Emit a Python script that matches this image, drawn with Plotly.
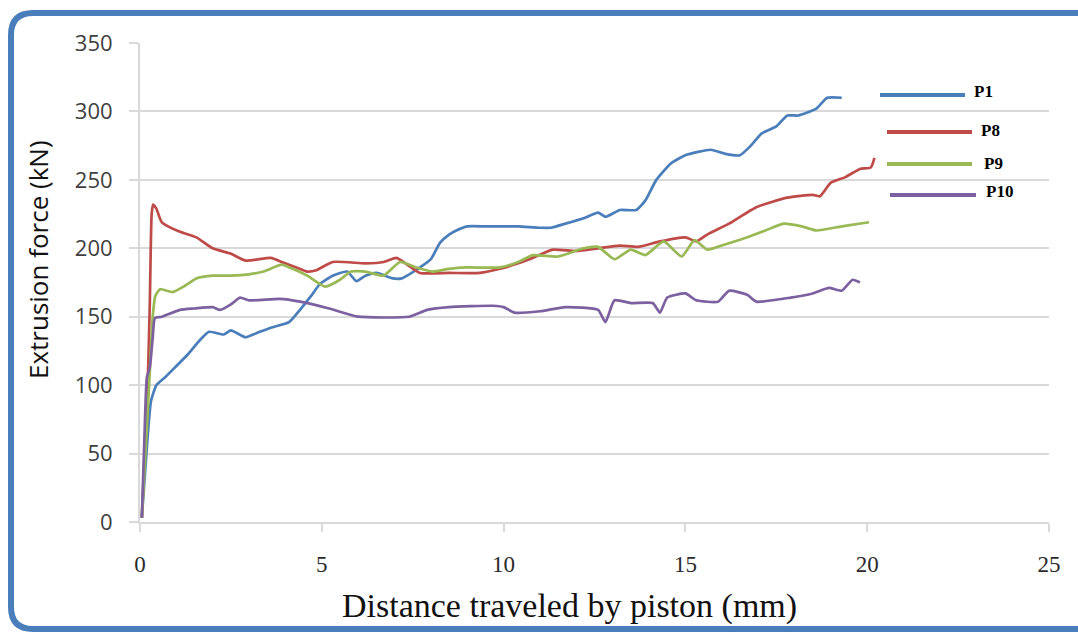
import plotly.graph_objects as go

# ---------------- data ----------------
p1_x = [0.05, 0.15, 0.3, 0.45, 0.7, 1.0, 1.3, 1.65, 1.9, 2.3, 2.5, 2.9, 3.2, 3.6, 4.1, 4.4, 4.7, 4.95,
        5.3, 5.7, 5.95, 6.2, 6.5, 6.95, 7.2, 7.7, 8.0, 8.25, 8.5, 8.7, 9.0, 9.5, 10.0, 10.4, 11.0, 11.3,
        11.7, 12.2, 12.6, 12.8, 13.2, 13.65, 13.9, 14.2, 14.6, 15.0, 15.7, 16.1, 16.5, 16.8, 17.1, 17.5,
        17.8, 18.1, 18.6, 18.9, 19.3]
p1_y = [3, 40, 88, 100, 106, 114, 122, 133, 139, 137, 140, 135, 138, 142, 146, 155, 165, 174,
        180, 183, 176, 180, 182, 178, 178, 186, 192, 204, 210, 213, 216, 216, 216, 216, 215, 215,
        218, 222, 226, 223, 228, 228, 235, 250, 262, 268, 272, 269, 268, 275, 284, 289,
        297, 297, 302, 310, 310]

p8_x = [0.05, 0.15, 0.22, 0.27, 0.32, 0.36, 0.45, 0.6, 1.1, 1.55, 2.0, 2.5, 2.9, 3.6, 3.9, 4.3, 4.6,
        4.85, 5.3, 6.2, 6.7, 7.05, 7.3, 7.7, 8.5, 9.35, 9.9, 10.4, 10.8, 11.35, 12.0, 12.6, 13.2, 13.7,
        14.3, 15.0, 15.3, 15.6, 16.2, 16.95, 17.8, 18.5, 18.7, 19.0, 19.4, 19.8, 20.1, 20.2]
p8_y = [3, 60, 108, 160, 225, 232, 229, 219, 212, 208, 200, 196, 191, 193, 190, 186, 183,
        184, 190, 189, 190, 193, 189, 182, 182, 182, 185, 189, 193, 199, 198, 200, 202, 201,
        205, 208, 205, 210, 218, 230, 237, 239, 238, 248, 252, 258, 259, 266]

p9_x = [0.05, 0.15, 0.25, 0.35, 0.42, 0.55, 0.9, 1.2, 1.55, 2.0, 2.5, 3.0, 3.4, 3.9, 4.2, 4.6, 5.1,
        5.5, 5.8, 6.2, 6.7, 7.15, 7.6, 8.05, 8.5, 9.0, 9.9, 10.4, 10.8, 11.5, 12.2, 12.6, 13.05, 13.5,
        13.9, 14.4, 14.9, 15.25, 15.6, 16.0, 16.7, 17.2, 17.7, 18.2, 18.6, 19.3, 20.05]
p9_y = [3, 50, 100, 150, 165, 170, 168, 172, 178, 180, 180, 181, 183, 188, 185, 180, 172,
        177, 183, 183, 180, 190, 186, 183, 185, 186, 186, 190, 195, 194, 200, 201, 192, 199,
        195, 205, 194, 206, 199, 202, 208, 213, 218, 216, 213, 216, 219]

p10_x = [0.05, 0.12, 0.19, 0.27, 0.35, 0.41, 0.6, 1.1, 1.5, 2.0, 2.2, 2.5, 2.75, 3.0, 3.85, 4.4,
         5.2, 6.0, 7.4, 7.9, 8.5, 9.7, 10.0, 10.3, 11.0, 11.7, 12.6, 12.8, 13.05, 13.5, 14.1, 14.3,
         14.5, 15.0, 15.3, 15.9, 16.2, 16.7, 16.95, 17.9, 18.5, 18.95, 19.3, 19.6, 19.8]
p10_y = [3, 60, 106, 113, 135, 149, 150, 155, 156, 157, 155, 159, 164, 162, 163, 161,
         156, 150, 150, 155, 157, 158, 157, 153, 154, 157, 155, 146, 162, 160, 160, 153,
         164, 167, 162, 161, 169, 166, 161, 164, 167, 171, 169, 177, 175]

series_names = ["P1", "P8", "P9", "P10"]
series_colors = ["#4a7ebb", "#be4b48", "#98b954", "#7d60a0"]
x_ticks = [0, 5, 10, 15, 20, 25]
y_ticks = [0, 50, 100, 150, 200, 250, 300, 350]

# ---------------- layout helpers (pixel -> paper) ----------------
L, R, T, B = 140, 1049, 43, 522


def px2x(px):
    return (px - L) / (R - L)


def py2y(py):
    return (B - py) / (B - T)


fig = go.Figure()
for name, xs, ys, col in zip(series_names, [p1_x, p8_x, p9_x, p10_x],
                             [p1_y, p8_y, p9_y, p10_y], series_colors):
    fig.add_trace(go.Scatter(x=xs, y=ys, mode="lines", name=name,
                             line=dict(color=col, width=2.7, shape="spline", smoothing=0.5),
                             showlegend=False))

grid = "#d9d9d9"
fig.update_layout(
    width=1078, height=632,
    margin=dict(l=L, r=1078 - R, t=T, b=632 - B),
    paper_bgcolor="white", plot_bgcolor="white",
    xaxis=dict(range=[0, 25], tickvals=x_ticks, showgrid=False, zeroline=False,
               showline=True, linecolor=grid, linewidth=2,
               ticks="outside", ticklen=8, tickcolor=grid, tickwidth=2,
               ticklabelstandoff=12,
               tickfont=dict(family="Liberation Serif", size=23, color="#2b2b2b")),
    yaxis=dict(range=[0, 350], tickvals=y_ticks, showgrid=True, gridcolor=grid, gridwidth=2,
               zeroline=False, showline=True, linecolor=grid, linewidth=2,
               ticks="outside", ticklen=9, tickcolor=grid, tickwidth=2,
               ticklabelstandoff=12,
               tickfont=dict(family="Open Sans", size=22, color="#404040")),
)

# axis titles
fig.add_annotation(text="Distance traveled by piston (mm)", xref="paper", yref="paper",
                   x=px2x(569), y=py2y(606), showarrow=False, xanchor="center", yanchor="middle",
                   font=dict(family="Liberation Serif", size=34, color="#111111"))
fig.add_annotation(text="Extrusion force (kN)", xref="paper", yref="paper",
                   x=px2x(38), y=py2y(260), showarrow=False, textangle=-90,
                   xanchor="center", yanchor="middle",
                   font=dict(family="Open Sans", size=26, color="#111111"))

# manual legend
leg = [(880, 965, 95, 972, 92), (887, 972, 132, 979, 130),
       (887, 972, 164, 982, 163), (890, 976, 195, 984, 192)]
for (x0, x1, yl, xt, yt), name, col in zip(leg, series_names, series_colors):
    fig.add_shape(type="line", xref="paper", yref="paper",
                  x0=px2x(x0), x1=px2x(x1), y0=py2y(yl), y1=py2y(yl),
                  line=dict(color=col, width=4))
    fig.add_annotation(text="<b>" + name + "</b>", xref="paper", yref="paper",
                       x=px2x(xt), y=py2y(yt), showarrow=False, xanchor="left", yanchor="middle",
                       font=dict(family="Liberation Serif", size=17, color="#000000"))

# rounded blue frame
fl, ft, fr, fb, rad = 11, 13, 1092, 629, 22


def P(px, py):
    return f"{px2x(px):.5f},{py2y(py):.5f}"


path = (f"M {P(fl + rad, ft)} L {P(fr, ft)} L {P(fr, fb)} L {P(fl + rad, fb)} "
        f"Q {P(fl, fb)} {P(fl, fb - rad)} L {P(fl, ft + rad)} Q {P(fl, ft)} {P(fl + rad, ft)} Z")
fig.add_shape(type="path", xref="paper", yref="paper", path=path,
              line=dict(color="#4a7ebb", width=6), layer="below")

fig.write_html("out.html")
